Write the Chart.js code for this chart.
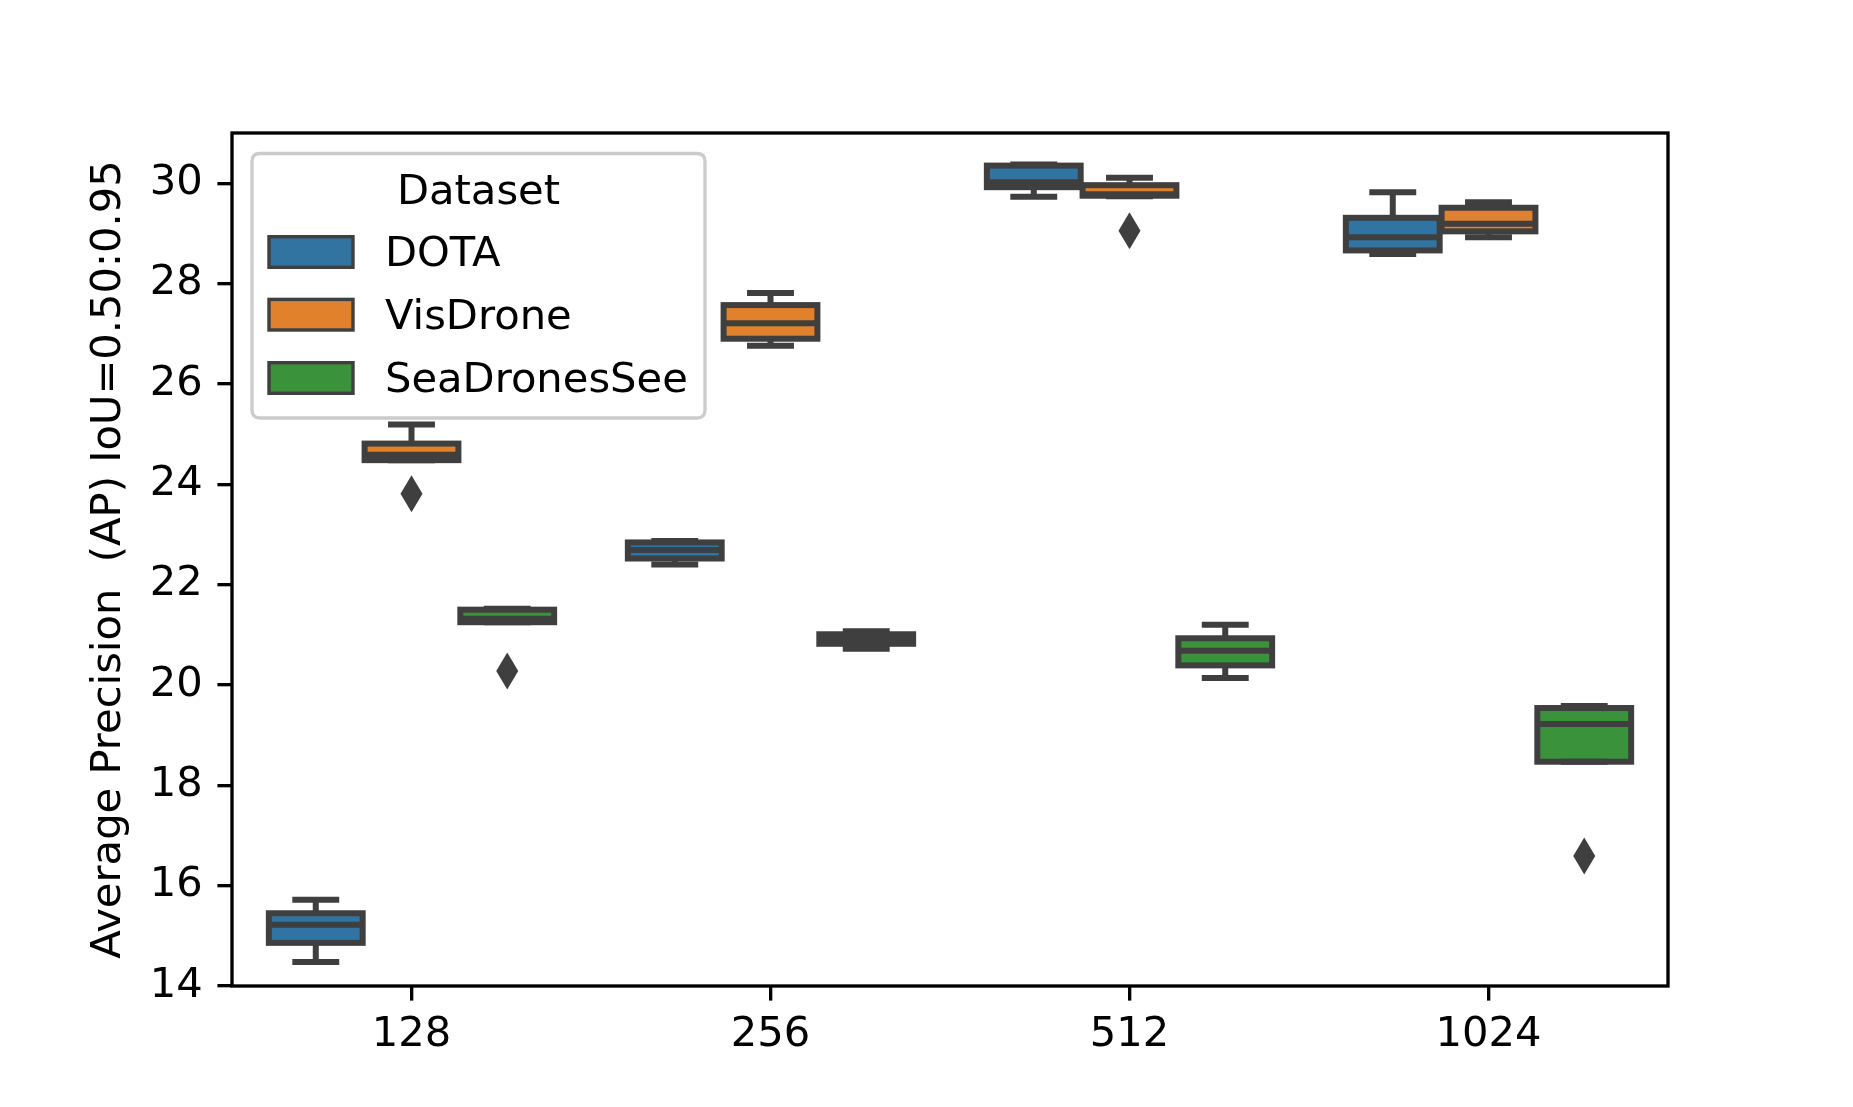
<!DOCTYPE html>
<html>
<head>
<meta charset="utf-8">
<script src="https://cdn.jsdelivr.net/npm/chart.js@4.4.0/dist/chart.umd.min.js"></script>
<style>
  html, body { margin: 0; padding: 0; background: #ffffff; }
  #wrap { width: 1853px; height: 1107px; }
</style>
</head>
<body>
<div id="wrap"><canvas id="c" width="1853" height="1107"></canvas></div>
<script>
// ---------- data ----------
const categories = ['128', '256', '512', '1024'];
const seriesNames = ['DOTA', 'VisDrone', 'SeaDronesSee'];
const yTicks = [14, 16, 18, 20, 22, 24, 26, 28, 30];

const dotaMin = [14.48, 22.40, 29.73, 28.59];
const dotaQ1  = [14.86, 22.52, 29.92, 28.66];
const dotaMed = [15.22, 22.69, 30.02, 28.92];
const dotaQ3  = [15.45, 22.84, 30.35, 29.31];
const dotaMax = [15.72, 22.87, 30.37, 29.82];
const dotaOut = [[], [], [], []];

const visMin = [24.48, 26.76, 29.74, 28.92];
const visQ1  = [24.48, 26.90, 29.75, 29.04];
const visMed = [24.59, 27.21, 29.78, 29.19];
const visQ3  = [24.81, 27.57, 29.96, 29.51];
const visMax = [25.19, 27.81, 30.11, 29.62];
const visOut = [[23.81], [], [29.05], []];

const seaMin = [21.25, 20.72, 20.14, 18.47];
const seaQ1  = [21.25, 20.82, 20.39, 18.47];
const seaMed = [21.32, 20.92, 20.68, 19.22];
const seaQ3  = [21.50, 21.01, 20.93, 19.54];
const seaMax = [21.52, 21.07, 21.20, 19.58];
const seaOut = [[20.28], [], [], [16.59]];

const yMin = 14, yMax = 31;

// ---------- style ----------
const colors = ['#3274a1', '#e1812c', '#3a923a'];
const edge = '#3f3f3f';
const FS = 41.67;
const LW = 6;
const SPINE = 3.33;

const stats = [
  {min: dotaMin, q1: dotaQ1, med: dotaMed, q3: dotaQ3, max: dotaMax, out: dotaOut},
  {min: visMin, q1: visQ1, med: visMed, q3: visQ3, max: visMax, out: visOut},
  {min: seaMin, q1: seaQ1, med: seaMed, q3: seaQ3, max: seaMax, out: seaOut}
];

Chart.defaults.font.family = "'DejaVu Sans', sans-serif";
Chart.defaults.font.size = FS;
Chart.defaults.color = '#000000';

const barSets = stats.map((s, h) => ({
  label: seriesNames[h],
  data: categories.map((c, i) => [s.q1[i], s.q3[i]]),
  backgroundColor: colors[h],
  borderWidth: 0,
  borderSkipped: false,
  categoryPercentage: 0.8,
  barPercentage: 0.98
}));

const boxPlugin = {
  id: 'boxPlugin',
  afterDatasetsDraw(chart) {
    const ctx = chart.ctx;
    const y = chart.scales.y;
    ctx.save();
    ctx.strokeStyle = edge;
    ctx.fillStyle = edge;
    ctx.lineWidth = LW;
    ctx.lineCap = 'butt';
    ctx.lineJoin = 'miter';
    stats.forEach((s, h) => {
      const meta = chart.getDatasetMeta(h);
      meta.data.forEach((el, i) => {
        const x = el.x, w = el.width;
        const pMin = y.getPixelForValue(s.min[i]);
        const pQ1 = y.getPixelForValue(s.q1[i]);
        const pMed = y.getPixelForValue(s.med[i]);
        const pQ3 = y.getPixelForValue(s.q3[i]);
        const pMax = y.getPixelForValue(s.max[i]);
        ctx.beginPath();
        ctx.moveTo(x, pQ3); ctx.lineTo(x, pMax);
        ctx.moveTo(x, pQ1); ctx.lineTo(x, pMin);
        ctx.moveTo(x - w / 4, pMax); ctx.lineTo(x + w / 4, pMax);
        ctx.moveTo(x - w / 4, pMin); ctx.lineTo(x + w / 4, pMin);
        ctx.stroke();
        ctx.strokeRect(x - w / 2, pQ3, w, pQ1 - pQ3);
        ctx.beginPath();
        ctx.moveTo(x - w / 2, pMed); ctx.lineTo(x + w / 2, pMed);
        ctx.stroke();
        // outliers (thin diamonds)
        s.out[i].forEach(v => {
          const py = y.getPixelForValue(v);
          ctx.beginPath();
          ctx.moveTo(x, py - 18.5); ctx.lineTo(x + 11, py);
          ctx.lineTo(x, py + 18.5); ctx.lineTo(x - 11, py);
          ctx.closePath();
          ctx.fill();
        });
      });
    });
    ctx.restore();
  },
  afterDraw(chart) {
    const ctx = chart.ctx;
    const a = chart.chartArea;
    ctx.save();
    ctx.strokeStyle = '#000000';
    ctx.lineWidth = SPINE;
    ctx.lineJoin = 'miter';
    ctx.strokeRect(a.left, a.top, a.right - a.left, a.bottom - a.top);

    // legend
    const L = 252, T = 153.5, R = 705, B = 418, rad = 8;
    ctx.beginPath();
    ctx.moveTo(L + rad, T);
    ctx.lineTo(R - rad, T); ctx.quadraticCurveTo(R, T, R, T + rad);
    ctx.lineTo(R, B - rad); ctx.quadraticCurveTo(R, B, R - rad, B);
    ctx.lineTo(L + rad, B); ctx.quadraticCurveTo(L, B, L, B - rad);
    ctx.lineTo(L, T + rad); ctx.quadraticCurveTo(L, T, L + rad, T);
    ctx.closePath();
    ctx.fillStyle = 'rgba(255,255,255,0.8)';
    ctx.fill();
    ctx.strokeStyle = '#cccccc';
    ctx.lineWidth = 3.33;
    ctx.stroke();

    ctx.font = FS + "px 'DejaVu Sans', sans-serif";
    ctx.fillStyle = '#000000';
    ctx.textBaseline = 'alphabetic';
    ctx.textAlign = 'center';
    ctx.fillText('Dataset', (L + R) / 2, 204);

    ctx.textAlign = 'left';
    const rowY = [252, 314.7, 378];
    chart.data.datasets.forEach((ds, h) => {
      const cy = rowY[h];
      ctx.fillStyle = ds.backgroundColor;
      ctx.fillRect(269, cy - 15.3, 84, 30.6);
      ctx.strokeStyle = edge;
      ctx.lineWidth = 3.4;
      ctx.strokeRect(269, cy - 15.3, 84, 30.6);
      ctx.fillStyle = '#000000';
      ctx.fillText(ds.label, 385, cy + 14);
    });
    ctx.restore();
  }
};

new Chart(document.getElementById('c'), {
  type: 'bar',
  data: {
    labels: categories,
    datasets: barSets
  },
  options: {
    responsive: false,
    devicePixelRatio: 1,
    animation: false,
    events: [],
    layout: { padding: { left: 0, right: 185, top: 133, bottom: 0 } },
    plugins: {
      legend: { display: false },
      tooltip: { enabled: false },
      title: { display: false }
    },
    scales: {
      x: {
        type: 'category',
        offset: true,
        border: { display: false },
        grid: {
          offset: false,
          drawOnChartArea: false,
          drawTicks: true,
          tickLength: 14.6,
          lineWidth: SPINE,
          color: '#000000'
        },
        ticks: { padding: 10, color: '#000000', font: { size: FS } },
        afterFit(scale) { scale.height = 121; }
      },
      y: {
        type: 'linear',
        stacked: false,
        min: yMin,
        max: yMax,
        border: { display: false },
        grid: {
          drawOnChartArea: false,
          drawTicks: true,
          tickLength: 14.6,
          lineWidth: SPINE,
          color: '#000000'
        },
        ticks: { padding: 14.6, color: '#000000', font: { size: FS } },
        afterBuildTicks(scale) { scale.ticks = yTicks.map(v => ({ value: v })); },
        title: {
          display: true,
          text: 'Average Precision  (AP) IoU=0.50:0.95',
          color: '#000000',
          font: { size: FS },
          padding: { top: 84, bottom: 0 }
        },
        afterFit(scale) { scale.width = 232; }
      }
    }
  },
  plugins: [boxPlugin]
});
</script>
</body>
</html>
